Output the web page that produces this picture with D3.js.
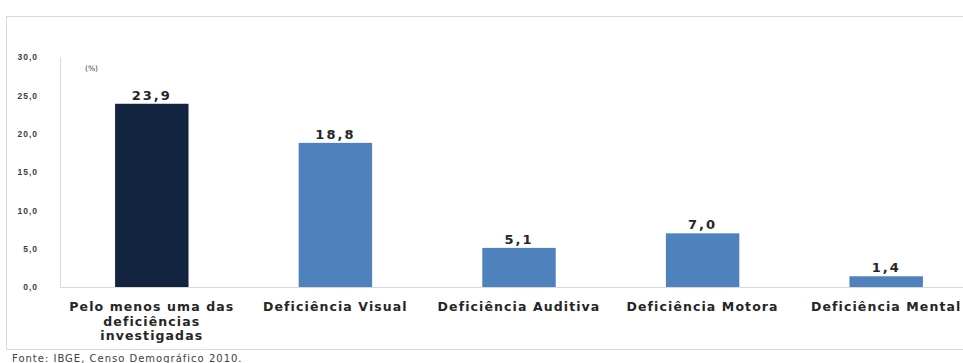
<!DOCTYPE html>
<html>
<head>
<meta charset="utf-8">
<script src="https://cdn.jsdelivr.net/npm/d3@7"></script>
<style>
  body { margin: 0; background: #fff; }
  svg { display: block; font-family: "DejaVu Sans", sans-serif; }
</style>
</head>
<body>
<div id="chart"></div>
<script>
// data (IBGE, Censo 2010)
const categories = [
    ["Pelo menos uma das", "deficiências", "investigadas"],
    ["Deficiência Visual"],
    ["Deficiência Auditiva"],
    ["Deficiência Motora"],
    ["Deficiência Mental"]
];
const values = [23.9, 18.8, 5.1, 7.0, 1.4];
const yTicks = [0, 5, 10, 15, 20, 25, 30];
const barColors = ["#12243f", "#4f81bd", "#4f81bd", "#4f81bd", "#4f81bd"];

const width = 963, height = 363;
const margin = {top: 57, left: 60, bottom: 76};

const svg = d3.select("#chart").append("svg")
    .attr("width", width)
    .attr("height", height);

// frame round the chart
svg.append("rect")
    .attr("x", 6.5).attr("y", 16.5)
    .attr("width", 970).attr("height", 333)
    .attr("fill", "none")
    .attr("stroke", "#d9d9d9");

const x = d3.scaleBand()
    .domain(d3.range(values.length))
    .range([margin.left, 978])
    .paddingInner(0.6)
    .paddingOuter(0.3);

const y = d3.scaleLinear()
    .domain([0, 30])
    .range([287, margin.top]);

const fmt = d => d3.format(".1f")(d).replace(".", ",");

// y axis
const yAxis = svg.append("g")
    .attr("transform", "translate(" + margin.left + ",0)")
    .call(d3.axisLeft(y).tickValues(yTicks).tickSize(0).tickPadding(22).tickFormat(fmt));
yAxis.select(".domain").attr("stroke", "#d9d9d9");
yAxis.selectAll("text")
    .attr("font-size", 8.5)
    .attr("font-weight", "bold")
    .attr("letter-spacing", 1)
    .attr("fill", "#404040");

// baseline
svg.append("line")
    .attr("x1", margin.left).attr("x2", width)
    .attr("y1", y(0) + 0.5).attr("y2", y(0) + 0.5)
    .attr("stroke", "#d9d9d9");

svg.append("text")
    .attr("x", 85).attr("y", 71)
    .attr("font-size", 7.5)
    .attr("fill", "#404040")
    .text("(%)");

// bars
svg.selectAll("rect.bar")
    .data(values)
    .enter()
    .append("rect")
    .attr("class", "bar")
    .attr("x", (d, i) => x(i))
    .attr("y", d => y(d))
    .attr("width", x.bandwidth())
    .attr("height", d => y(0) - y(d))
    .attr("fill", (d, i) => barColors[i]);

// value labels
svg.selectAll("text.val")
    .data(values)
    .enter()
    .append("text")
    .attr("class", "val")
    .attr("x", (d, i) => x(i) + x.bandwidth() / 2)
    .attr("y", d => y(d) - 4)
    .attr("text-anchor", "middle")
    .attr("font-size", 13)
    .attr("font-weight", "bold")
    .attr("letter-spacing", 2)
    .attr("fill", "#262626")
    .text(fmt);

// category labels
svg.selectAll("text.cat")
    .data(categories)
    .enter()
    .append("text")
    .attr("class", "cat")
    .attr("x", (d, i) => x(i) + x.bandwidth() / 2)
    .attr("y", 311)
    .attr("text-anchor", "middle")
    .attr("font-size", 12.5)
    .attr("font-weight", "bold")
    .attr("letter-spacing", 1.1)
    .attr("fill", "#262626")
    .selectAll("tspan")
    .data(d => d)
    .enter()
    .append("tspan")
    .attr("x", function() { return this.parentNode.getAttribute("x"); })
    .attr("dy", (d, i) => i === 0 ? 0 : 14.5)
    .text(d => d);

svg.append("text")
    .attr("x", 12).attr("y", 362)
    .attr("font-size", 10)
    .attr("letter-spacing", 1)
    .attr("fill", "#404040")
    .text("Fonte: IBGE, Censo Demográfico 2010.");
</script>
</body>
</html>
